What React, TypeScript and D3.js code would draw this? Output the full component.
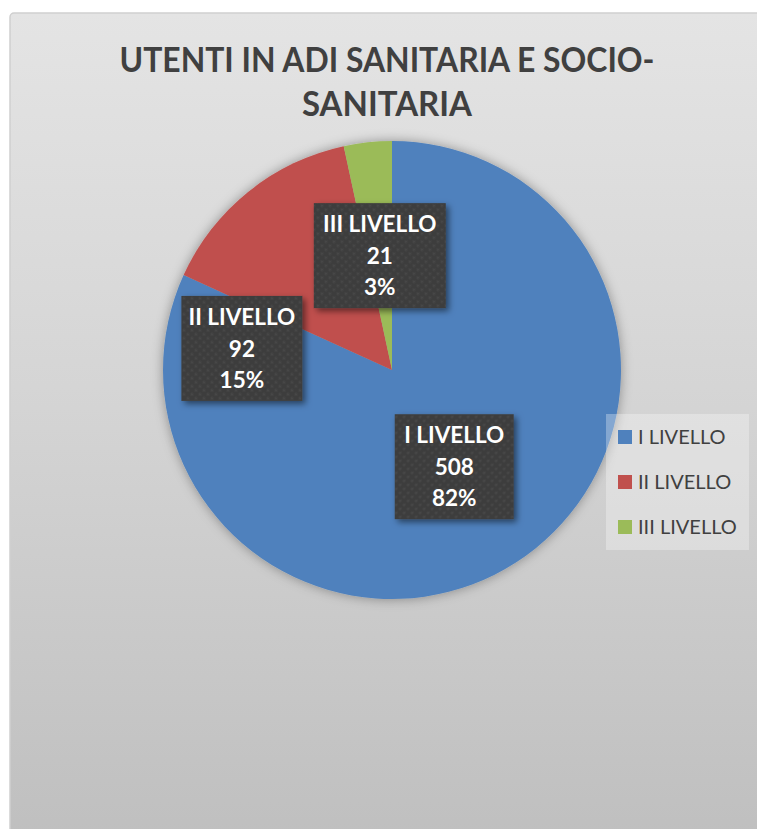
import React from "react";
import * as d3 from "d3";

const categories = ["I LIVELLO", "II LIVELLO", "III LIVELLO"];
const values = [508, 92, 21];
const colors = ["#4F81BD", "#C0504D", "#9BBB59"];
const titleLines = ["UTENTI IN ADI SANITARIA E SOCIO-", "SANITARIA"];

// layout constants (not data)
const W = 757;
const H = 829;
const CX = 392;
const CY = 370;
const R = 229;
const LABEL_R = 115;
const labelShift = [
  { dx: 0, dy: 0 },
  { dx: -78, dy: 68 },
  { dx: 0, dy: 0 },
];
const labelBoxW = [119, 121, 132];
const LABEL_BOX_H = 105;

export default function App() {
  const total = d3.sum(values);
  const pie = d3
    .pie<number>()
    .sort(null)
    .startAngle(0)
    .endAngle(2 * Math.PI)(values);
  const arc = d3.arc<d3.PieArcDatum<number>>().innerRadius(0).outerRadius(R);
  const labelArc = d3
    .arc<d3.PieArcDatum<number>>()
    .innerRadius(LABEL_R)
    .outerRadius(LABEL_R);
  const fmtPct = (v: number) => `${Math.round((v / total) * 100)}%`;

  return (
    <svg
      width={W}
      height={H}
      style={{ position: "absolute", left: 0, top: 0 }}
      fontFamily="Lato, 'Open Sans', sans-serif"
    >
      <defs>
        <linearGradient id="bg" x1="0" y1="0" x2="0" y2="1">
          <stop offset="0%" stopColor="#e4e4e4" />
          <stop offset="45%" stopColor="#d5d5d5" />
          <stop offset="100%" stopColor="#bfbfbf" />
        </linearGradient>
        <filter id="pieShadow" x="-20%" y="-20%" width="140%" height="140%">
          <feDropShadow dx="0" dy="0" stdDeviation="6" floodColor="#000" floodOpacity="0.35" />
        </filter>
        <filter id="boxShadow" x="-20%" y="-20%" width="150%" height="150%">
          <feDropShadow dx="3" dy="3" stdDeviation="3" floodColor="#000" floodOpacity="0.5" />
        </filter>
        <pattern id="dots" width="8" height="8" patternUnits="userSpaceOnUse">
          <rect width="8" height="8" fill="#3e3e3e" />
          <circle cx="2" cy="2" r="1.3" fill="#474747" />
          <circle cx="6" cy="6" r="1.3" fill="#474747" />
        </pattern>
      </defs>

      <rect x={10} y={13} width={760} height={830} rx={4} fill="url(#bg)" stroke="#cfcfcf" strokeWidth={1.5} />

      {titleLines.map((t, i) => (
        <text
          key={i}
          x={387}
          y={72 + i * 44}
          textAnchor="middle"
          fontSize={35}
          fontWeight="bold"
          fill="#404040"
          textLength={i === 0 ? 535 : 170}
          lengthAdjust="spacingAndGlyphs"
        >
          {t}
        </text>
      ))}

      <g transform={`translate(${CX},${CY})`}>
        <g filter="url(#pieShadow)">
          {pie.map((d, i) => (
            <path key={i} d={arc(d) || ""} fill={colors[i]} />
          ))}
        </g>
        {pie.map((d, i) => {
          const [lx, ly] = labelArc.centroid(d);
          const x = lx + labelShift[i].dx;
          const y = ly + labelShift[i].dy;
          const bw = labelBoxW[i];
          const lines = [categories[i], String(values[i]), fmtPct(values[i])];
          return (
            <g key={`l${i}`} transform={`translate(${x},${y})`}>
              <rect
                x={-bw / 2}
                y={-LABEL_BOX_H / 2}
                width={bw}
                height={LABEL_BOX_H}
                fill="url(#dots)"
                filter="url(#boxShadow)"
              />
              {lines.map((s, j) => (
                <text
                  key={j}
                  x={0}
                  y={(j - 1) * 31.5}
                  dy="0.36em"
                  textAnchor="middle"
                  fontSize={22.5}
                  fontWeight="bold"
                  fill="#ffffff"
                >
                  {s}
                </text>
              ))}
            </g>
          );
        })}
      </g>

      <g>
        <rect x={606} y={414} width={143} height={136} fill="#ffffff" fillOpacity={0.3} />
        {categories.map((c, i) => (
          <g key={c} transform={`translate(618,${430 + i * 45})`}>
            <rect width={14} height={14} fill={colors[i]} />
            <text x={20} y={7} dy="0.36em" fontSize={20} fill="#404040">
              {c}
            </text>
          </g>
        ))}
      </g>
    </svg>
  );
}
